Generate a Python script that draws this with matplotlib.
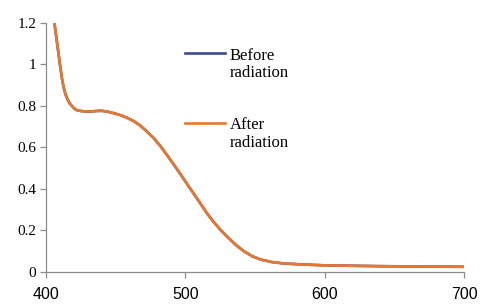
import matplotlib
matplotlib.use("Agg")
import matplotlib.pyplot as plt
from matplotlib.legend_handler import HandlerLine2D

wavelength = [406.0, 407, 408, 409, 410, 411.5, 412.5, 414, 415.5, 417.3, 420, 422, 426, 431.6, 436, 440, 444,
              448.4, 453, 458, 463, 467.6, 472, 477.2, 482, 486.5, 491.6, 496.4, 501.2, 506, 510.8, 515.5,
              520.4, 525, 530, 536, 542, 548, 554, 562, 570.7, 585, 600, 620, 640, 660, 680, 700]
before = [1.2, 1.15, 1.1, 1.05, 1.0, 0.93, 0.893, 0.855, 0.83, 0.809, 0.789, 0.779, 0.774, 0.772, 0.775, 0.776,
          0.772, 0.765, 0.756, 0.743, 0.726, 0.705, 0.679, 0.645, 0.607, 0.566, 0.518, 0.472, 0.424, 0.377,
          0.330, 0.283, 0.240, 0.205, 0.170, 0.132, 0.100, 0.076, 0.060, 0.048, 0.041, 0.036, 0.032, 0.030,
          0.028, 0.027, 0.026, 0.025]
after = list(before)

x_ticks = [400, 500, 600, 700]
y_ticks = [0, 0.2, 0.4, 0.6, 0.8, 1.0, 1.2]
y_labels = ["0", "0.2", "0.4", "0.6", "0.8", "1", "1.2"]
labels = ["Before\nradiation", "After\nradiation"]


class TopLineHandler(HandlerLine2D):
    def __init__(self, offset, **kw):
        super().__init__(**kw)
        self.offset = offset

    def create_artists(self, legend, orig_handle, xdescent, ydescent, width, height, fontsize, trans):
        artists = super().create_artists(legend, orig_handle, xdescent, ydescent, width, height, fontsize, trans)
        for a in artists:
            yd = a.get_ydata()
            a.set_ydata([y + self.offset for y in yd])
        return artists


fig = plt.figure(figsize=(4.8, 3.04), dpi=100)
ax = fig.add_axes([46/480, 32/304, (464-46)/480, (272-22.7)/304])

l1, = ax.plot(wavelength, before, color="#3B4B8C", lw=1.9, label=labels[0])
l2, = ax.plot(wavelength, after, color="#E8782E", lw=1.9, label=labels[1])

ax.set_xlim(400, 700)
ax.set_ylim(0, 1.2)
ax.set_xticks(x_ticks)
ax.set_yticks(y_ticks)
ax.set_yticklabels(y_labels, fontfamily="Liberation Serif", fontsize=11)
ax.set_xticklabels([str(t) for t in x_ticks], fontfamily="Liberation Sans", fontsize=11.5)

for s in ["top", "right"]:
    ax.spines[s].set_visible(False)
for s in ["left", "bottom"]:
    ax.spines[s].set_color("#8C8C8C")
    ax.spines[s].set_linewidth(0.9)
ax.tick_params(axis="both", colors="#8C8C8C", labelcolor="black", length=4, width=0.9)
ax.tick_params(axis="x", pad=7)
ax.tick_params(axis="y", pad=3)

hm = {l1: TopLineHandler(8.0), l2: TopLineHandler(8.0)}
leg = ax.legend(handles=[l1, l2], loc="upper left", bbox_to_anchor=(0.3325, 0.9), frameon=False,
                prop={"family": "Liberation Serif", "size": 12}, handlelength=2.4,
                handletextpad=0.3, labelspacing=2.2, borderpad=0, borderaxespad=0, handler_map=hm)
for t in leg.get_texts():
    t.set_linespacing(1.1)

fig.savefig("out.png", dpi=100)
